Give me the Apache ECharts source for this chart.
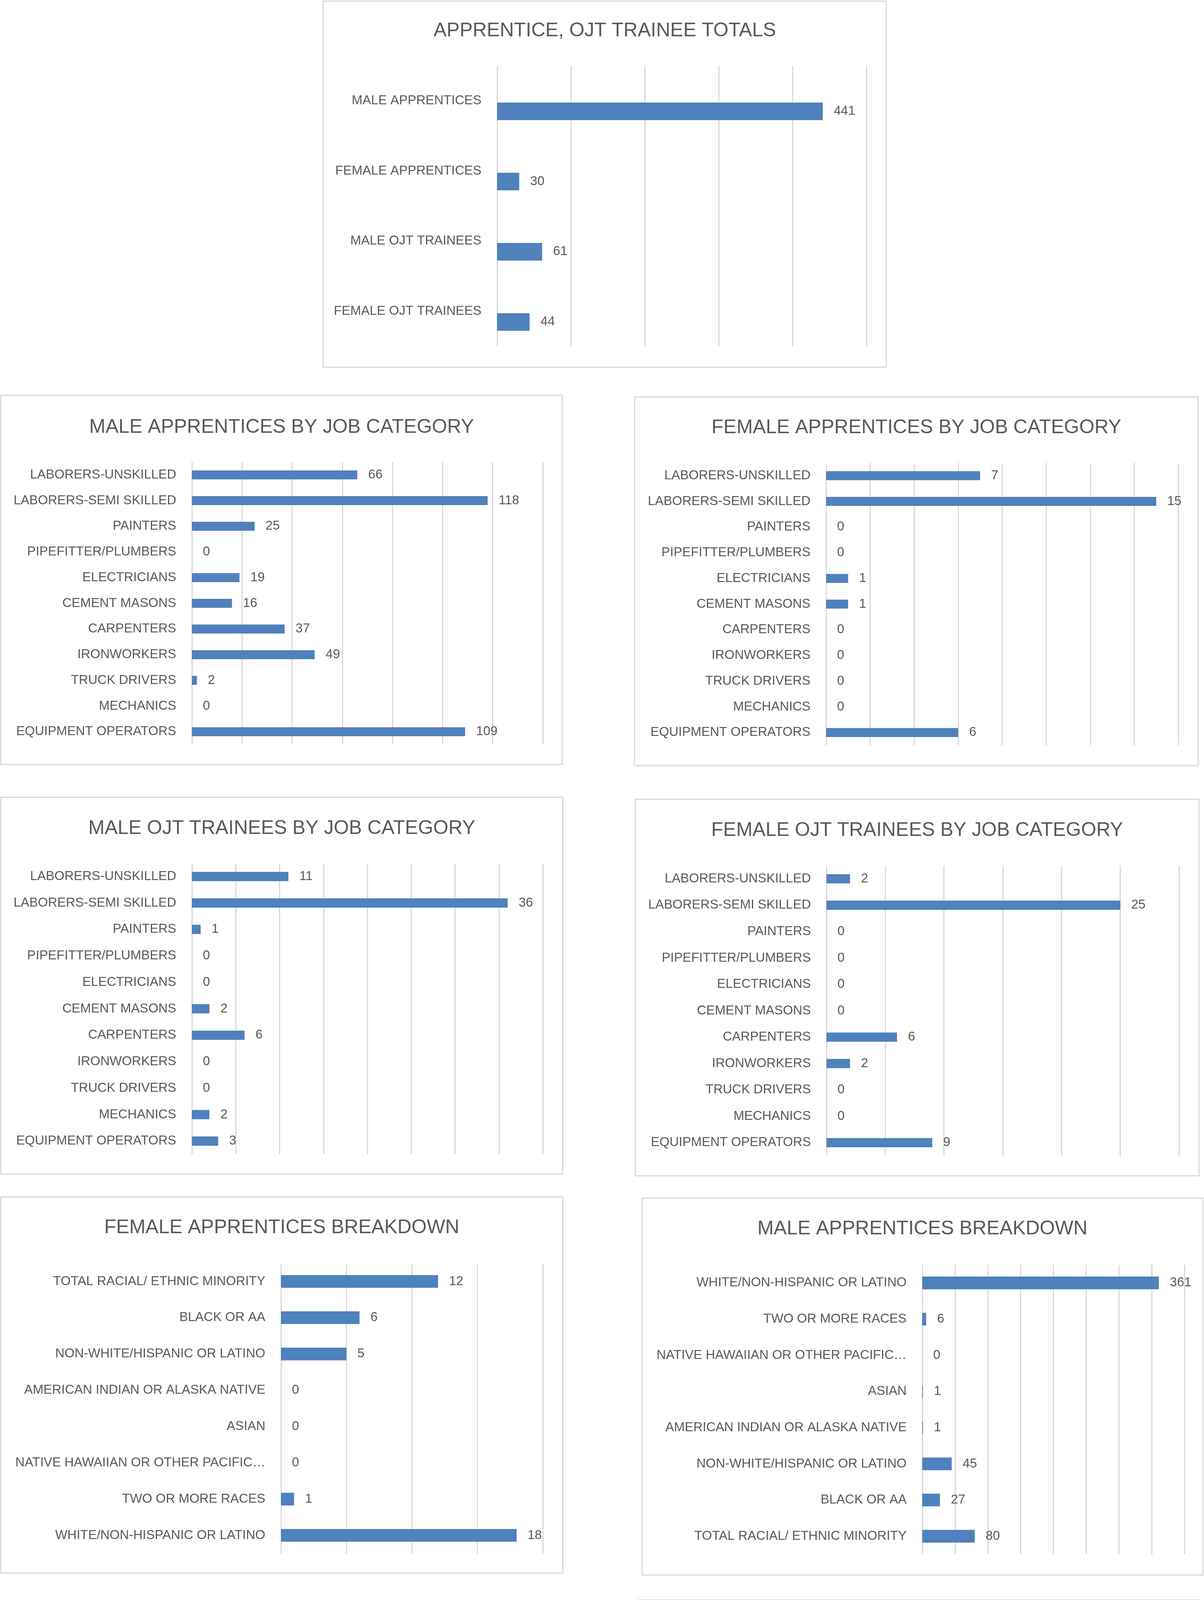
<!DOCTYPE html>
<html>
<head>
<meta charset="utf-8">
<script src="https://cdn.jsdelivr.net/npm/echarts@6/dist/echarts.min.js"></script>
<style>
html, body { margin: 0; padding: 0; background: #fff; }
#main { width: 3081px; height: 5063px; }
</style>
</head>
<body>
<div id="main"></div>
<script>
// data
var totalsCats = ['MALE APPRENTICES', 'FEMALE APPRENTICES', 'MALE OJT TRAINEES', 'FEMALE OJT TRAINEES'];
var totalsVals = [441, 30, 61, 44];

var jobCats = ['LABORERS-UNSKILLED', 'LABORERS-SEMI SKILLED', 'PAINTERS', 'PIPEFITTER/PLUMBERS', 'ELECTRICIANS',
    'CEMENT MASONS', 'CARPENTERS', 'IRONWORKERS', 'TRUCK DRIVERS', 'MECHANICS', 'EQUIPMENT OPERATORS'];
var maleAppJob = [66, 118, 25, 0, 19, 16, 37, 49, 2, 0, 109];
var femaleAppJob = [7, 15, 0, 0, 1, 1, 0, 0, 0, 0, 6];
var maleOjtJob = [11, 36, 1, 0, 0, 2, 6, 0, 0, 2, 3];
var femaleOjtJob = [2, 25, 0, 0, 0, 0, 6, 2, 0, 0, 9];

// race / ethnicity categories, top to bottom
var raceCats = ['WHITE/NON-HISPANIC OR LATINO', 'TWO OR MORE RACES', 'NATIVE HAWAIIAN OR OTHER PACIFIC…', 'ASIAN',
    'AMERICAN INDIAN OR ALASKA NATIVE', 'NON-WHITE/HISPANIC OR LATINO', 'BLACK OR AA', 'TOTAL RACIAL/ ETHNIC MINORITY'];
var raceCatsRev = raceCats.slice().reverse();
var femaleAppRace = [12, 6, 5, 0, 0, 0, 1, 18];   // uses raceCatsRev
var maleAppRace = [361, 6, 0, 1, 1, 45, 27, 80];
var maleOjtRace = [5, 6, 0, 0, 3, 24, 23, 56];
var femaleOjtRace = [39, 1, 1, 0, 0, 0, 3, 5];

var FONT = 'Liberation Sans';
var TXT = '#595959';
var BAR = '#4F81BD';
var LINE = '#D9D9D9';

// box = panel frame [x, y, w, h], grid = plot area [left, top, width, height]
var panels = [
    {title: 'APPRENTICE, OJT TRAINEE TOTALS', cats: totalsCats, vals: totalsVals, max: 500, step: 100,
        box: [827, 3, 1441, 937], grid: [1272, 168, 945, 719], titleY: 79, pair: true},
    {title: 'MALE APPRENTICES BY JOB CATEGORY', cats: jobCats, vals: maleAppJob, max: 140, step: 20,
        box: [2, 1012, 1437, 945], grid: [491, 1183, 898, 723], titleY: 1094},
    {title: 'FEMALE APPRENTICES BY JOB CATEGORY', cats: jobCats, vals: femaleAppJob, max: 16, step: 2,
        box: [1624, 1016, 1442, 944], grid: [2114, 1185, 901, 723], titleY: 1095},
    {title: 'MALE OJT TRAINEES BY JOB CATEGORY', cats: jobCats, vals: maleOjtJob, max: 40, step: 5,
        box: [2, 2041, 1438, 965], grid: [491, 2210, 898, 745], titleY: 2121},
    {title: 'FEMALE OJT TRAINEES BY JOB CATEGORY', cats: jobCats, vals: femaleOjtJob, max: 30, step: 5,
        box: [1626, 2046, 1442, 964], grid: [2115, 2216, 902, 743], titleY: 2126},
    {title: 'FEMALE APPRENTICES BREAKDOWN', cats: raceCatsRev, vals: femaleAppRace, max: 20, step: 5,
        box: [2, 3064, 1438, 963], grid: [719, 3234, 670, 743], titleY: 3143},
    {title: 'MALE APPRENTICES BREAKDOWN', cats: raceCats, vals: maleAppRace, max: 400, step: 50,
        box: [1643, 3067, 1435, 965], grid: [2360, 3238, 671, 741], titleY: 3146},
    {title: 'MALE OJT TRAINEES', cats: raceCats, vals: maleOjtRace, max: 60, step: 10,
        box: [2, 4098, 1440, 959], grid: [719, 4269, 672, 743], titleY: 4177},
    {title: 'FEMALE OJT TRAINEES', cats: raceCats, vals: femaleOjtRace, max: 50, step: 10,
        box: [1633, 4096, 1435, 961], grid: [2349, 4266, 670, 744], titleY: 4176}
];

var myChart = echarts.init(document.getElementById('main'));

var grids = [], xAxes = [], yAxes = [], series = [], graphics = [];

for (var i = 0; i < panels.length; i++) {
    var p = panels[i];
    grids.push({left: p.grid[0], top: p.grid[1], width: p.grid[2], height: p.grid[3], containLabel: false});
    xAxes.push({
        gridIndex: i, type: 'value', min: 0, max: p.max, interval: p.step,
        axisLabel: {show: false}, axisLine: {show: false}, axisTick: {show: false},
        splitLine: {show: true, lineStyle: {color: LINE, width: 3}}
    });
    yAxes.push({
        gridIndex: i, type: 'category', data: p.cats, inverse: true,
        axisLine: {show: false}, axisTick: {show: false},
        axisLabel: {margin: 40, color: TXT, fontFamily: FONT, fontSize: 33}
    });

    var label = {
        show: true, position: 'right', distance: 28,
        color: TXT, fontFamily: FONT, fontSize: 33
    };

    if (p.pair) {
        // the totals chart has an empty second series, so the bars sit below the category centre
        series.push({
            type: 'bar', xAxisIndex: i, yAxisIndex: i, barWidth: 45, barGap: '20%',
            data: p.cats.map(function () { return null; })
        });
        series.push({
            type: 'bar', xAxisIndex: i, yAxisIndex: i, barWidth: 45, barGap: '20%',
            itemStyle: {color: BAR}, label: label, data: p.vals
        });
    } else {
        series.push({
            type: 'bar', xAxisIndex: i, yAxisIndex: i, barWidth: '35%',
            itemStyle: {color: BAR}, label: label, data: p.vals
        });
    }

    // panel frame and title
    graphics.push({
        type: 'rect', silent: true,
        shape: {x: p.box[0], y: p.box[1], width: p.box[2], height: p.box[3]},
        style: {fill: null, stroke: LINE, lineWidth: 3}
    });
    graphics.push({
        type: 'text', silent: true,
        x: p.box[0] + p.box[2] / 2, y: p.titleY,
        style: {text: p.title, align: 'center', verticalAlign: 'middle',
            fill: TXT, font: '50px "' + FONT + '"'}
    });
}

var option = {
    backgroundColor: '#ffffff',
    animation: false,
    grid: grids,
    xAxis: xAxes,
    yAxis: yAxes,
    series: series,
    graphic: graphics
};
myChart.setOption(option);
</script>
</body>
</html>
